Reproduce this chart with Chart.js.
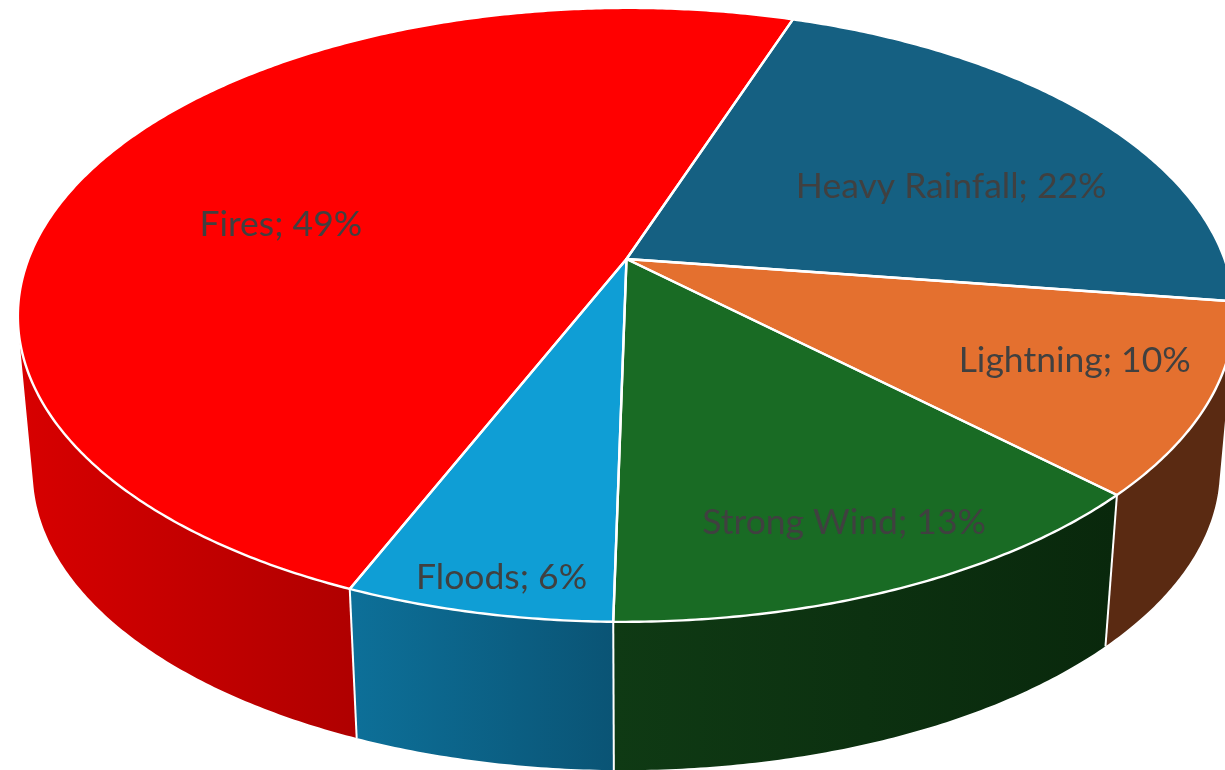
<!DOCTYPE html>
<html><head><meta charset="utf-8">
<style>html,body{margin:0;padding:0;background:#fff;overflow:hidden}canvas{display:block}</style>
<script src="https://cdn.jsdelivr.net/npm/chart.js@4"></script>
</head><body><canvas id="c" width="1225" height="770"></canvas>
<script>
const categories = ['Heavy Rainfall','Lightning','Strong Wind','Floods','Fires'];
const shares = [22,10,13,6,49];
const topColors = ['#156082','#e4702f','#196b24','#0f9ed5','#ff0000'];
const wallLeft = ['#0e4058','#5a2a12','#0f3a14','#0d7099','#d80000'];
const wallRight = ['#0e4058','#5a2a12','#09280c','#0a5475','#b00000'];
const labelRadius = [.623,.776,.827,.913,.603];
const labelTurnDeg = [7.2,-1.7,.1,-.8,-9.2];
const labelColor = '#404040';

// perspective of the tilted disc
const view = {x0:626.5,y0:259,rx:598,ry:296.8,k:.182,skew:-2.5,vpx:639,vpy:6800,bottomScale:.976};
function project(theta,r){
  const u=r*Math.sin(theta), v=-r*Math.cos(theta), w=1-view.k*v;
  return {x:view.x0+(view.rx*u+view.skew*v)/w, y:view.y0+view.ry*v/w};
}
function lower(p){return {x:view.vpx+view.bottomScale*(p.x-view.vpx), y:view.vpy+view.bottomScale*(p.y-view.vpy)};}
const toTheta=a=>a+Math.PI/2;

const tiltedPie={
  id:'tiltedPie',
  beforeDatasetsDraw(chart){
    const ctx=chart.ctx, arcs=chart.getDatasetMeta(0).data;
    const STEP=Math.PI/360;
    const samples=(a,b)=>{const n=Math.max(2,Math.ceil((b-a)/STEP));return Array.from({length:n+1},(_,i)=>a+(b-a)*i/n);};
    // side walls: quads of one winding in a single path, so the fold at the silhouette stays filled
    arcs.forEach((arc,i)=>{
      const ts=samples(toTheta(arc.startAngle),toTheta(arc.endAngle)).filter(t=>-Math.cos(t)>-.2);
      if(ts.length<2) return;
      const top=ts.map(t=>project(t,1)), bot=top.map(lower);
      const xs=ts.filter(t=>-Math.cos(t)>-.02).map(t=>project(t,1).x);
      const g=ctx.createLinearGradient(Math.min(...xs),0,Math.max(...xs),0);
      g.addColorStop(0,wallLeft[i]); g.addColorStop(1,wallRight[i]);
      ctx.beginPath();
      for(let j=0;j<top.length-1;j++){
        let q=[top[j],top[j+1],bot[j+1],bot[j]];
        let area=0;
        q.forEach((a,n)=>{const b=q[(n+1)%4];area+=a.x*b.y-b.x*a.y;});
        if(area<0) q=q.reverse();
        q.forEach((p,n)=>n?ctx.lineTo(p.x,p.y):ctx.moveTo(p.x,p.y));
        ctx.closePath();
      }
      ctx.fillStyle=g; ctx.fill('nonzero');
    });
    // wall seams, only those in front of the silhouette fold
    ctx.strokeStyle='#fff'; ctx.lineWidth=2;
    arcs.forEach(arc=>{
      const t=toTheta(arc.startAngle);
      if(-Math.cos(t)<.2) return;
      const p=project(t,1), q=lower(p);
      ctx.beginPath(); ctx.moveTo(p.x,p.y); ctx.lineTo(q.x,q.y); ctx.stroke();
    });
    // top face
    const apex=project(0,0);
    const facePath=arc=>{
      ctx.beginPath(); ctx.moveTo(apex.x,apex.y);
      samples(toTheta(arc.startAngle),toTheta(arc.endAngle)).forEach(t=>{const p=project(t,1);ctx.lineTo(p.x,p.y);});
      ctx.closePath();
    };
    arcs.forEach(arc=>{facePath(arc);ctx.fillStyle=arc.options.backgroundColor;ctx.fill();});
    ctx.lineJoin='round'; ctx.strokeStyle='#fff'; ctx.lineWidth=2.4;
    arcs.forEach(arc=>{facePath(arc);ctx.stroke();});
    // labels
    ctx.fillStyle=labelColor; ctx.textAlign='center'; ctx.textBaseline='middle';
    ctx.font='35.5px Lato, "Open Sans", sans-serif';
    arcs.forEach((arc,i)=>{
      const mid=toTheta((arc.startAngle+arc.endAngle)/2)+labelTurnDeg[i]*Math.PI/180;
      const p=project(mid,labelRadius[i]);
      ctx.fillText(categories[i]+'; '+shares[i]+'%',p.x,p.y+.5);
    });
    return false;
  }
};

new Chart(document.getElementById('c'),{
  type:'pie',
  data:{labels:categories,datasets:[{data:shares,backgroundColor:topColors,borderWidth:0}]},
  options:{responsive:false,animation:false,rotation:18.8,
    plugins:{legend:{display:false},tooltip:{enabled:false},title:{display:false}}},
  plugins:[tiltedPie]
});
</script></body></html>
